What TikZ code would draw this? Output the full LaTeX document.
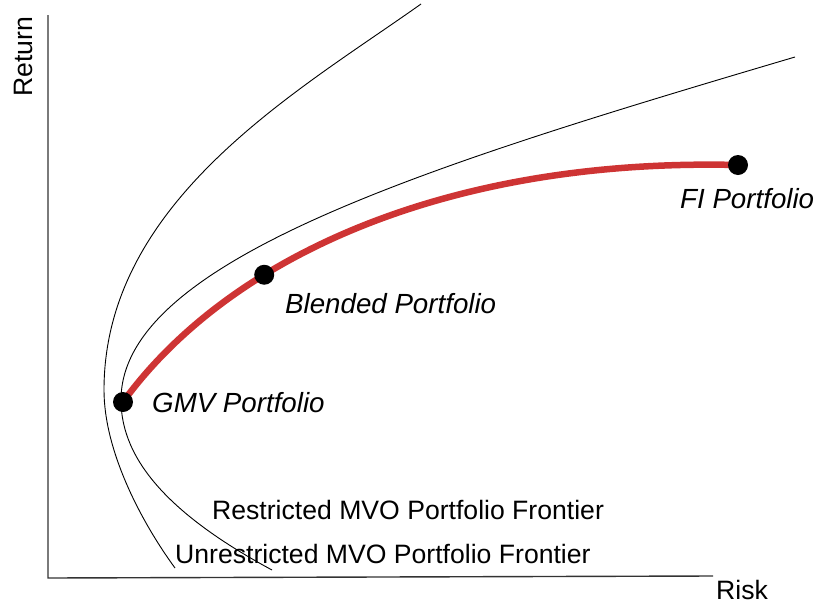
\documentclass[tikz,border=0pt]{standalone}
\usepackage{fontspec}
\setmainfont{Liberation Sans}
\definecolor{frontierred}{RGB}{206,52,52}
\tikzset{
  dot/.style={fill=black},
  lbl/.style={inner sep=0pt, anchor=base west, font=\fontsize{26.6}{30}\selectfont},
  pflbl/.style={lbl, font=\fontsize{27.7}{32}\selectfont\itshape}
}
\begin{document}
\begin{tikzpicture}[x=1pt, y=-1pt]
    \useasboundingbox (0, 0) rectangle (815, 606);
    \coordinate (O) at (48, 578);
    \coordinate (top) at (48, 15);
    \coordinate (right) at (713, 576);
    % Axes
    \draw[line width=1.4pt, black!80] (top) -- (O) -- (right);
    \node[lbl] (risk) at (716, 599) {Risk};
    \node[lbl, rotate=90] (return) at (32, 97) {Return};
    % Unrestricted frontier
    \coordinate (uv) at (104, 390);
    \draw[line width=0.9pt] (421, 4) .. controls (300, 90) and (104, 200) .. (uv)
        .. controls (104, 450) and (140, 520) .. (175, 568);
    % Restricted frontier
    \coordinate (rv) at (121, 400);
    \draw[line width=0.9pt] (795, 57) .. controls (430, 165) and (121, 260) .. (rv)
        .. controls (121, 460) and (170, 515) .. (272, 570);
    % Portfolios on the restricted frontier
    \coordinate (gmv) at (123, 402);
    \coordinate (fi) at (738, 165);
    \draw[frontierred, line width=6.5pt] (gmv) .. controls (230, 255) and (450, 158) .. (fi)
        coordinate[pos=0.33] (blended);
    \fill[dot] (gmv) circle[radius=10pt];
    \fill[dot] (blended) circle[radius=10pt];
    \fill[dot] (fi) circle[radius=10pt];
    \node[pflbl] (gmvlbl) at (152, 412) {GMV Portfolio};
    \node[pflbl] (blendedlbl) at (285, 313) {Blended Portfolio};
    \node[pflbl] (filbl) at (680, 208) {FI Portfolio};
    % Frontier names
    \node[lbl] (restricted) at (212, 519) {Restricted MVO Portfolio Frontier};
    \node[lbl] (unrestricted) at (175, 563) {Unrestricted MVO Portfolio Frontier};
\end{tikzpicture}
\end{document}
